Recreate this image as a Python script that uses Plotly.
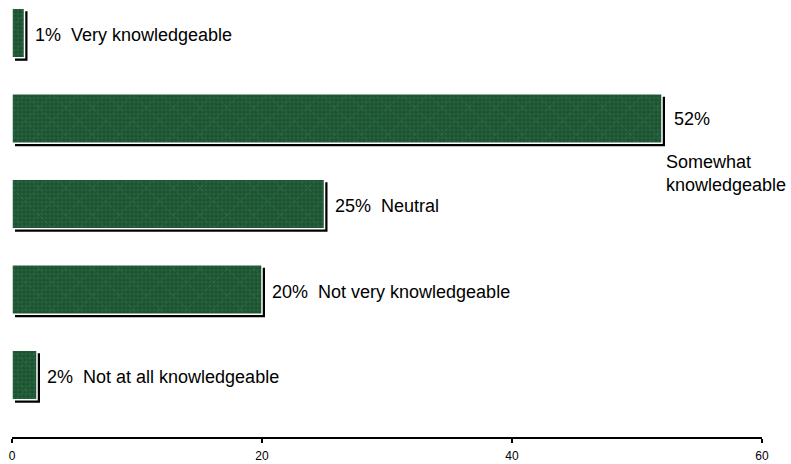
import plotly.graph_objects as go

# Survey responses: how knowledgeable respondents consider themselves
categories = ["Very knowledgeable", "Somewhat knowledgeable", "Neutral",
              "Not very knowledgeable", "Not at all knowledgeable"]
percents = [1, 52, 25, 20, 2]
tick_values = [0, 20, 40, 60]

positions = list(range(len(categories)))
bar_width = 0.58
px_per_unit_x = 750 / 60.0      # plot width / x-range
px_per_unit_y = 85.5            # pixels per category step
shadow_dx = 3 / px_per_unit_x
shadow_dy = 3 / px_per_unit_y

fig = go.Figure()

# Drop shadow behind each bar (offset right and down)
fig.add_trace(go.Bar(
    y=positions, x=percents, base=[shadow_dx] * len(percents),
    orientation="h", width=bar_width, offset=-bar_width / 2 + shadow_dy,
    marker=dict(color="black", line=dict(width=0)),
    hoverinfo="skip", showlegend=False,
))

# Marble-green bars: a mottled dark-green base with faint lighter veins
fig.add_trace(go.Bar(
    y=positions, x=percents, orientation="h", width=bar_width,
    offset=-bar_width / 2,
    marker=dict(
        color="#1c5231",
        line=dict(color="white", width=1.5),
        pattern=dict(shape=".", fgcolor="#2f7149", bgcolor="#1c5231",
                     size=4, solidity=0.45),
    ),
    showlegend=False,
))
fig.add_trace(go.Bar(
    y=positions, x=percents, orientation="h", width=bar_width,
    offset=-bar_width / 2,
    marker=dict(
        color="rgba(0,0,0,0)",
        line=dict(width=0),
        pattern=dict(shape="x", fgcolor="rgba(100,170,125,0.35)",
                     bgcolor="rgba(0,0,0,0)", size=19, solidity=0.08),
    ),
    hoverinfo="skip", showlegend=False,
))

annotations = []
for pos, val, cat in zip(positions, percents, categories):
    if cat == "Somewhat knowledgeable":
        annotations.append(dict(
            x=val, y=pos, text=f"{val}%", xanchor="left", yanchor="middle",
            xshift=10, yshift=0, showarrow=False,
        ))
        annotations.append(dict(
            x=val, y=pos, text="Somewhat<br>knowledgeable",
            xanchor="left", yanchor="top", align="left",
            xshift=2, yshift=-31, showarrow=False,
        ))
    else:
        annotations.append(dict(
            x=val, y=pos, text=f"{val}%  {cat}", xanchor="left",
            yanchor="middle", xshift=8, yshift=-2, showarrow=False,
        ))

fig.update_layout(
    width=791, height=464,
    margin=dict(l=12, r=29, t=0, b=27),
    paper_bgcolor="white", plot_bgcolor="white",
    barmode="overlay",
    font=dict(family="Liberation Sans, Arial, sans-serif", size=18, color="black"),
    annotations=annotations,
    xaxis=dict(
        range=[0, 60], tickvals=tick_values, ticktext=[str(t) for t in tick_values],
        showgrid=False, zeroline=False, showline=True, linecolor="black",
        linewidth=2, ticks="outside", ticklen=4, tickwidth=2, tickcolor="black",
        tickfont=dict(size=12), ticklabelstandoff=3, fixedrange=True,
    ),
    yaxis=dict(
        range=[4.725, -0.386], showgrid=False, zeroline=False, showline=False,
        showticklabels=False, ticks="", fixedrange=True,
    ),
)

fig.write_html("out.html")
